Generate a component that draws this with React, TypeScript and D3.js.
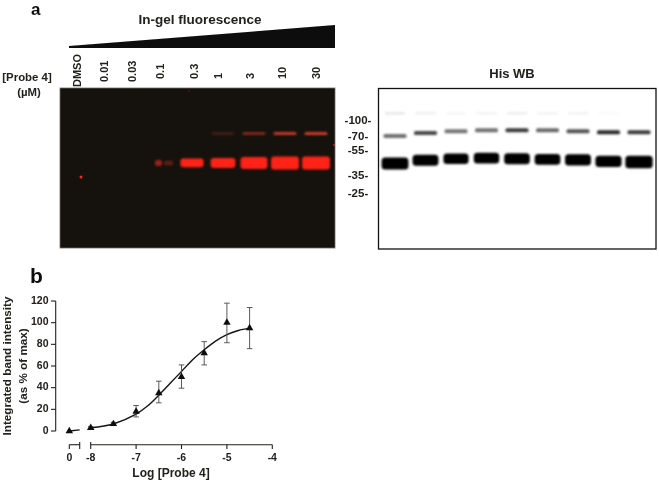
import React from "react";
import * as d3 from "d3";

// ---- data ----
const doseLabels = ["DMSO", "0.01", "0.03", "0.1", "0.3", "1", "3", "10", "30"];
const gelMainIntensity = [0, 0, 0, 0.1, 0.52, 0.64, 0.82, 0.91, 0.91];
const gelUpperIntensity = [0, 0, 0, 0, 0, 0.2, 0.48, 0.8, 0.85];
const gelMainKDa = 43.5;
const gelUpperKDa = 74;
const wbMainKDa = [43, 45.7, 47, 47.5, 47, 46.4, 46, 44.8, 44.3];
const wbMainThick = [0.82, 0.74, 0.68, 0.7, 0.72, 0.72, 0.74, 0.76, 0.86];
const wbUpperKDa = [70, 75, 78, 79.5, 79.5, 79.5, 78, 76, 76];
const wbUpperIntensity = [0.62, 0.8, 0.6, 0.62, 0.85, 0.65, 0.75, 0.92, 0.85];
const wbFaintIntensity = [0.1, 0.07, 0.04, 0.05, 0.08, 0.05, 0.05, 0.02, 0];
const markerKDa = [100, 70, 55, 35, 25];

const logDose = [-8, -7.5, -7, -6.5, -6, -5.5, -5, -4.5];
const meanValue = [3, 6.5, 18, 35, 50, 72, 100, 95];
const errHigh = [4, 8, 23.5, 46, 61, 82.5, 118, 114];
const errLow = [2, 5, 13, 26, 39.5, 61, 81.5, 76];
const zeroDose = 0;
const zeroValue = 0;
const fitX = [-8, -7.5, -7, -6.75, -6.5, -6.25, -6, -5.75, -5.5, -5.25, -5, -4.75, -4.5];
const fitY = [3, 6.5, 15.5, 23, 33, 44, 55, 66, 75, 83, 89, 92.8, 95];
const xTicksMain = [-8, -7, -6, -5, -4];
const yTicks = [0, 20, 40, 60, 80, 100, 120];

const W = 659;
const H = 484;
const FONT = "'Liberation Sans', Arial, sans-serif";
const INK = "#23201e";

const gelLane = d3.scalePoint<number>().domain(d3.range(9)).range([68, 316]);
const wbLane = d3.scalePoint<number>().domain(d3.range(9)).range([395, 639]);
const kDaY = d3.scaleLog().domain(markerKDa).range([120, 136, 150, 175, 193]);
const thick = d3.scaleLinear().domain([0, 1]).range([3, 14]);
const bandW = d3.scaleLinear().domain([0, 1]).range([17, 29]);
const grey = d3.scaleLinear<string>().domain([0, 1]).range(["#ffffff", "#181818"]);

const xMain = d3.scaleLinear().domain([-8, -4]).range([90.7, 272.3]);
const xZero = d3.scaleLinear().domain([0, 1]).range([69.3, 79.7]);
const yVal = d3.scaleLinear().domain([0, 120]).range([431, 301]);

const fitLine = d3
  .line<number>()
  .x((d) => xMain(d))
  .y((_, i) => yVal(fitY[i]))
  .curve(d3.curveCatmullRom);
const tri = d3.symbol().type(d3.symbolTriangle).size(24)() as string;

function Rotated({ x, y, children }: { x: number; y: number; children: string }) {
  return (
    <text
      transform={`translate(${x},${y}) rotate(-90)`}
      fontSize={11}
      fontWeight={700}
      fill={INK}
      dominantBaseline="middle"
    >
      {children}
    </text>
  );
}

export default function App() {
  const labelBottoms = [87, 82, 82, 79, 79, 79, 79, 79, 79];
  const labelNudge = [10, 6, 3, 0, 3, -4, -3, -2, 1];
  return (
    <svg
      width={W}
      height={H}
      viewBox={`0 0 ${W} ${H}`}
      style={{ position: "absolute", left: 0, top: 0, display: "block", background: "#fff" }}
      fontFamily={FONT}
    >
      <defs>
        <filter id="b1" x="-30%" y="-100%" width="160%" height="300%">
          <feGaussianBlur stdDeviation="1" />
        </filter>
        <filter id="b2" x="-30%" y="-100%" width="160%" height="300%">
          <feGaussianBlur stdDeviation="1" />
        </filter>
        <filter id="t">
          <feGaussianBlur stdDeviation="0.3" />
        </filter>
      </defs>

      <g filter="url(#t)">
        <text x={31} y={15.4} fontSize={17} fontWeight={700} fill="#111">a</text>
        <text x={200} y={24} fontSize={13.5} fontWeight={700} fill={INK} textAnchor="middle">In-gel fluorescence</text>
        <path d="M69,46 L335,25 L335,48 L69,48 Z" fill="#0b0b0b" />
        <text x={27} y={81} fontSize={11.4} fontWeight={700} fill={INK} textAnchor="middle">[Probe 4]</text>
        <text x={29} y={96} fontSize={11.4} fontWeight={700} fill={INK} textAnchor="middle">(µM)</text>
        {doseLabels.map((d, i) => (
          <Rotated key={d} x={(gelLane(i) as number) + labelNudge[i]} y={labelBottoms[i]}>{d}</Rotated>
        ))}
      </g>

      {/* gel */}
      <rect x={60} y={88} width={275} height={160} fill="#15120d" />
      <rect x={60} y={88} width={275} height={160} fill="none" stroke="#6f6d68" strokeWidth={0.8} />
      <g filter="url(#b1)">
        {gelMainIntensity.map((v, i) =>
          v >= 0.2 ? (
            <rect
              key={i}
              x={(gelLane(i) as number) - bandW(v) / 2}
              y={kDaY(gelMainKDa) - thick(v) / 2}
              width={bandW(v)}
              height={thick(v)}
              rx={3}
              fill="#ff2418"
            />
          ) : null
        )}
        {gelUpperIntensity.map((v, i) =>
          v > 0 ? (
            <rect
              key={i}
              x={(gelLane(i) as number) - 11.5}
              y={kDaY(gelUpperKDa) - 1.6}
              width={23}
              height={3.2}
              rx={1.5}
              fill="#f0402f"
              opacity={v}
            />
          ) : null
        )}
        {/* weak, split band of the 0.1 lane */}
        <rect x={(gelLane(3) as number) - 6} y={kDaY(gelMainKDa) - 3} width={7} height={6} rx={2} fill="#d02a1c" opacity={gelMainIntensity[3] * 7} />
        <rect x={(gelLane(3) as number) + 3} y={kDaY(gelMainKDa) - 2.5} width={9} height={5} rx={2} fill="#a02a1c" opacity={gelMainIntensity[3] * 5} />
      </g>
      <circle cx={81} cy={177} r={1.5} fill="#ff2a1e" />
      <circle cx={334} cy={145} r={0.9} fill="#c8301f" />
      <circle cx={189} cy={91} r={0.7} fill="#6d2018" />

      {/* western blot */}
      <text x={512} y={78} fontSize={13} fontWeight={700} fill={INK} textAnchor="middle" filter="url(#t)">His WB</text>
      <g filter="url(#b2)">
        {wbFaintIntensity.map((v, i) =>
          v > 0 ? (
            <rect key={i} x={(wbLane(i) as number) - 10} y={112} width={20} height={2.5} fill={grey(v)} />
          ) : null
        )}
        {wbUpperKDa.map((k, i) => (
          <rect
            key={i}
            x={(wbLane(i) as number) - 11.5}
            y={kDaY(k) - 2}
            width={23}
            height={4}
            rx={1.5}
            fill={grey(wbUpperIntensity[i])}
          />
        ))}
        {wbMainKDa.map((k, i) => (
          <rect
            key={i}
            x={(wbLane(i) as number) - bandW(wbMainThick[i]) / 2}
            y={kDaY(k) - thick(wbMainThick[i]) / 2}
            width={bandW(wbMainThick[i])}
            height={thick(wbMainThick[i])}
            rx={3.5}
            fill="#060606"
          />
        ))}
      </g>
      <rect x={378.5} y={88.5} width={277.5} height={160.5} fill="none" stroke="#111" strokeWidth={1.3} />
      <g filter="url(#t)">
        {markerKDa.map((k) => (
          <text
            key={k}
            x={358}
            y={kDaY(k) + 0.5}
            fontSize={11.5}
            fontWeight={700}
            fill={INK}
            textAnchor="middle"
            dominantBaseline="middle"
          >
            {`-${k}-`}
          </text>
        ))}
      </g>

      {/* dose-response */}
      <g filter="url(#t)">
        <text x={30} y={283} fontSize={21} fontWeight={700} fill="#111">b</text>
        <text
          transform="translate(8,366) rotate(-90)"
          fontSize={11.7}
          fontWeight={700}
          fill={INK}
          textAnchor="middle"
          dominantBaseline="middle"
        >
          Integrated band intensity
        </text>
        <text
          transform="translate(24,366) rotate(-90)"
          fontSize={11.7}
          fontWeight={700}
          fill={INK}
          textAnchor="middle"
          dominantBaseline="middle"
        >
          (as % of max)
        </text>

        {/* y axis */}
        <line x1={55.7} x2={55.7} y1={yVal(120)} y2={yVal(0)} stroke={INK} strokeWidth={1.1} />
        {yTicks.map((t) => (
          <g key={t}>
            <line x1={51} x2={55.7} y1={yVal(t)} y2={yVal(t)} stroke={INK} strokeWidth={1.1} />
            <text x={48.5} y={yVal(t)} fontSize={10.5} fontWeight={700} fill={INK} textAnchor="end" dominantBaseline="middle">{t}</text>
          </g>
        ))}

        {/* x axis */}
        <line x1={xZero(0)} x2={xZero(1)} y1={444.7} y2={444.7} stroke={INK} strokeWidth={1.1} />
        <line x1={xZero(0)} x2={xZero(0)} y1={444.7} y2={449} stroke={INK} strokeWidth={1.1} />
        <line x1={xZero(1)} x2={xZero(1)} y1={442} y2={449} stroke={INK} strokeWidth={1.1} />
        <line x1={xMain(-8)} x2={xMain(-4)} y1={444.7} y2={444.7} stroke={INK} strokeWidth={1.1} />
        <line x1={xMain(-8)} x2={xMain(-8)} y1={442} y2={449} stroke={INK} strokeWidth={1.1} />
        {xTicksMain.slice(1).map((t) => (
          <line key={t} x1={xMain(t)} x2={xMain(t)} y1={444.7} y2={449} stroke={INK} strokeWidth={1.1} />
        ))}
        <text x={xZero(0)} y={458} fontSize={10.5} fontWeight={700} fill={INK} textAnchor="middle" dominantBaseline="middle">{zeroDose}</text>
        {xTicksMain.map((t) => (
          <text key={t} x={xMain(t)} y={458} fontSize={10.5} fontWeight={700} fill={INK} textAnchor="middle" dominantBaseline="middle">{t}</text>
        ))}
        <text x={171} y={474} fontSize={12} fontWeight={700} fill={INK} textAnchor="middle" dominantBaseline="middle">Log [Probe 4]</text>

        {/* fit */}
        <path d={fitLine(fitX) as string} fill="none" stroke="#141414" strokeWidth={1.4} />
        <line x1={xZero(0)} x2={xZero(1)} y1={yVal(zeroValue)} y2={yVal(1)} stroke="#141414" strokeWidth={1.4} />

        {/* error bars */}
        {logDose.map((x, i) => (
          <g key={x} stroke="#4a4845" strokeWidth={0.9}>
            <line x1={xMain(x)} x2={xMain(x)} y1={yVal(errHigh[i])} y2={yVal(errLow[i])} />
            <line x1={xMain(x) - 2.8} x2={xMain(x) + 2.8} y1={yVal(errHigh[i])} y2={yVal(errHigh[i])} />
            <line x1={xMain(x) - 2.8} x2={xMain(x) + 2.8} y1={yVal(errLow[i])} y2={yVal(errLow[i])} />
          </g>
        ))}

        {/* points */}
        <path d={tri} transform={`translate(${xZero(0)},${yVal(zeroValue)})`} fill="#111" />
        {logDose.map((x, i) => (
          <path key={x} d={tri} transform={`translate(${xMain(x)},${yVal(meanValue[i])})`} fill="#111" />
        ))}
      </g>
    </svg>
  );
}
